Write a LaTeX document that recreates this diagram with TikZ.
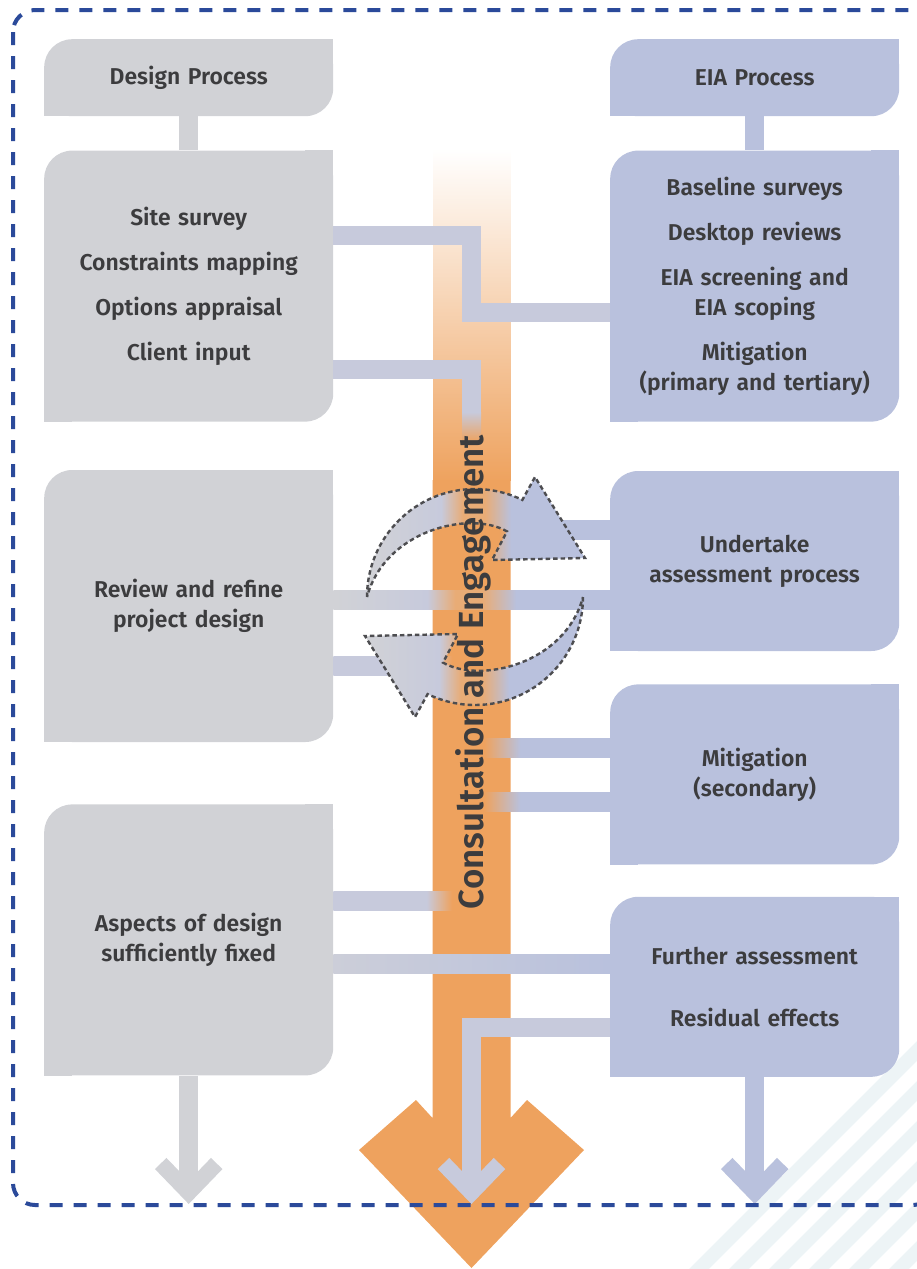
\documentclass[tikz,border=0pt]{standalone}
\usepackage{fontspec}
\setmainfont{Fira Sans}[BoldFont={* SemiBold}]
\usepackage{tikz}
\usetikzlibrary{arrows.meta,positioning,calc,fadings}
\definecolor{greyc}{HTML}{D1D2D6}
\definecolor{lavc}{HTML}{B9C1DD}
\definecolor{linkc}{HTML}{C7CADC}
\definecolor{orangec}{HTML}{EEA25E}
\definecolor{inkc}{HTML}{3C3C3E}
\definecolor{dotc}{HTML}{4D4D50}
\definecolor{framec}{HTML}{2B4A9A}
\definecolor{stripec}{HTML}{EDF4F6}
\colorlet{orangem}{orangec!80!greyc}
\pgfdeclarehorizontalshading{crossshade}{100bp}{color(0bp)=(greyc); color(25bp)=(greyc); color(42bp)=(linkc); color(47bp)=(orangem); color(52bp)=(orangem); color(58bp)=(lavc); color(100bp)=(lavc)}
\pgfdeclarehorizontalshading{fadeleft}{100bp}{color(0bp)=(orangec); color(26bp)=(orangec); color(40bp)=(lavc); color(100bp)=(lavc)}
\pgfdeclarehorizontalshading{faderight}{100bp}{color(0bp)=(linkc); color(62bp)=(linkc); color(72bp)=(orangec); color(100bp)=(orangec)}
\newcommand\boxfont{\fontsize{23}{30}\selectfont\bfseries}
\newcommand\colfont{\fontsize{35}{40}\selectfont\bfseries}
\tikzset{
  leaf/.style={rectangle, rounded corners=28bp, fill=#1, minimum width=289bp, text width=280bp, align=center, inner sep=0pt, font=\boxfont, text=inkc,
    append after command={\pgfextra{\fill[#1, sharp corners] (\tikzlastnode.north east) rectangle ++(-28bp,-28bp);
      \fill[#1, sharp corners] (\tikzlastnode.south west) rectangle ++(28bp,28bp);}}},
  greybox/.style={leaf=greyc},
  eiabox/.style={leaf=lavc},
  lane/.style={line width=19bp},
  chev/.style={-{Straight Barb[length=29bp, width=56bp, line width=16bp]}},
  cycarrow/.style={shading=crossshade, draw=dotc, line width=2.4bp, dash pattern=on 4.5bp off 3bp},
  frame/.style={draw=framec, line width=4bp, dash pattern=on 13bp off 11bp, rounded corners=22bp},
}
\begin{document}
\begin{tikzpicture}[x=1bp, y=1bp, node distance=34bp]
  \useasboundingbox (0,0) rectangle (917,-1269);
  \foreach \s in {1968,2008,...,2168}
    \draw[stripec, line width=14bp] ({\s-1300},-1300) -- (940,{940-\s});

  \fill[orangec, path fading=north] (432.5,-150) rectangle (510.5,-481);
  \fill[orangec] (432.5,-480) -- (432.5,-1118) -- (416,-1100) -- (359,-1150) -- (471.5,-1268)
    -- (584,-1150) -- (527,-1100) -- (510.5,-1118) -- (510.5,-480) -- cycle;

  \node[greybox, minimum height=77bp, anchor=north west] (dhead) at (44,-39) {Design Process};
  \node[greybox, minimum height=271bp, below=of dhead] (dlist) {Site survey\\[15bp]Constraints mapping\\[15bp]Options appraisal\\[15bp]Client input};
  \node[greybox, minimum height=272bp, below=48bp of dlist] (dreview) {Review and refine\\project design};
  \node[greybox, minimum height=271bp, below=62bp of dreview] (dfixed) {Aspects of design\\sufficiently fixed};

  \node[eiabox, minimum height=77bp, anchor=north west] (ehead) at (610,-39) {EIA Process};
  \node[eiabox, minimum height=271bp, below=of ehead] (elist) {Baseline surveys\\[15bp]Desktop reviews\\[15bp]EIA screening and\\EIA scoping\\[15bp]Mitigation\\(primary and tertiary)};
  \node[eiabox, minimum height=180bp, below=49bp of elist] (eassess) {Undertake\\assessment process};
  \node[eiabox, minimum height=180bp, below=33bp of eassess] (emitig) {Mitigation\\(secondary)};
  \node[eiabox, minimum height=180bp, below=32bp of emitig] (efurther) {Further assessment\\[32bp]Residual effects};

  \coordinate (colx) at (471.5,0);
  \coordinate (ysite) at (0,-235);
  \coordinate (yscope) at (0,-312);
  \coordinate (yclient) at (0,-369);
  \coordinate (yfade) at (0,-412);
  \coordinate (yassess) at (0,-530);
  \coordinate (yrev) at (0,-600);
  \coordinate (yrevlow) at (0,-666);
  \coordinate (ymit) at (0,-748);
  \coordinate (ymitlow) at (0,-802);
  \coordinate (yfix) at (0,-901);
  \coordinate (yfixlow) at (0,-964);
  \coordinate (yresid) at (0,-1027.5);
  \coordinate (ytip) at (0,-1204);

  \draw[lane, greyc] (dhead) -- (dlist);
  \draw[lane, lavc] (ehead) -- (elist);
  \draw[lane, linkc] (dlist.east |- ysite) -| (colx |- yscope) -- (elist.west |- yscope);
  \draw[lane, linkc] (dlist.east |- yclient) -| (colx |- yfade);
  \shade[top color=linkc, bottom color=orangec] ($(colx |- yfade)+(-9.5,0)$) rectangle ($(colx |- yfade)+(9.5,-30)$);
  \shade[shading=fadeleft] ($(colx |- yassess)+(25,9.5)$) rectangle ($(eassess.west |- yassess)+(0,-9.5)$);
  \shade[shading=crossshade] ($(dreview.east |- yrev)+(0,9.5)$) rectangle ($(eassess.west |- yrev)+(0,-9.5)$);
  \shade[shading=faderight] ($(dreview.east |- yrevlow)+(0,9.5)$) rectangle ($(colx |- yrevlow)+(-12,-9.5)$);
  \shade[shading=fadeleft] ($(colx |- ymit)+(10,9.5)$) rectangle ($(emitig.west |- ymit)+(0,-9.5)$);
  \shade[shading=fadeleft] ($(colx |- ymitlow)+(10,9.5)$) rectangle ($(emitig.west |- ymitlow)+(0,-9.5)$);
  \shade[shading=faderight] ($(dfixed.east |- yfix)+(0,9.5)$) rectangle ($(colx |- yfix)+(-12,-9.5)$);
  \shade[left color=greyc!50!linkc, right color=lavc] ($(dfixed.east |- yfixlow)+(0,9.5)$) rectangle ($(efurther.west |- yfixlow)+(0,-9.5)$);
  \draw[lane, chev, linkc] (efurther.west |- yresid) -| (colx |- ytip);
  \draw[lane, chev, greyc] (dfixed) -- (dfixed.south |- ytip);
  \draw[lane, chev, lavc] (efurther) -- (efurther.south |- ytip);

  \shadedraw[cycarrow] (367,-597) arc[start angle=180, end angle=64, radius=108] -- (535,-477) -- (585,-558) -- (492,-560)
    -- (507,-531.4) .. controls (470,-510) and (385,-530) .. (367,-597) -- cycle;
  \shadedraw[cycarrow] (583,-597) arc[start angle=0, end angle=-116, radius=108] -- (415,-717) -- (365,-636) -- (458,-634)
    -- (443,-662.6) .. controls (480,-684) and (565,-664) .. (583,-597) -- cycle;

  \node[rotate=90, anchor=base, font=\colfont, text=inkc] (consult) at (483,-672) {Consultation and Engagement};

  \draw[frame] (13,-10) rectangle (935,-1205);
\end{tikzpicture}
\end{document}
